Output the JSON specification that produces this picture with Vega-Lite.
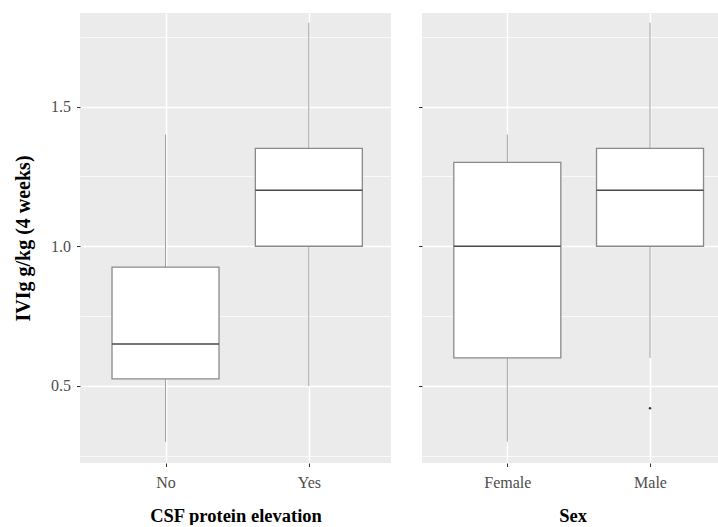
{
  "$schema": "https://vega.github.io/schema/vega-lite/v6.json",
  "padding": {"left": 13, "top": 13, "right": 0, "bottom": 0},
  "background": "white",
  "spacing": 27,
  "config": {
    "view": {"fill": "#EBEBEB", "stroke": null},
    "font": "Liberation Serif",
    "axis": {
      "domain": false,
      "gridColor": "white",
      "tickColor": "#333333",
      "tickSize": 3.5,
      "tickWidth": 1,
      "labelColor": "#4D4D4D",
      "labelFont": "Liberation Serif",
      "labelFontSize": 16,
      "titleFont": "Liberation Serif",
      "titleFontWeight": "bold",
      "titleColor": "black"
    }
  },
  "datasets": {
    "csf": [
      {"group": "No", "lower": 0.3, "q1": 0.525, "median": 0.65, "q3": 0.925, "upper": 1.4},
      {"group": "Yes", "lower": 0.5, "q1": 1.0, "median": 1.2, "q3": 1.35, "upper": 1.8}
    ],
    "sex": [
      {"group": "Female", "lower": 0.3, "q1": 0.6, "median": 1.0, "q3": 1.3, "upper": 1.4},
      {"group": "Male", "lower": 0.6, "q1": 1.0, "median": 1.2, "q3": 1.35, "upper": 1.8}
    ],
    "sexOut": [
      {"group": "Male", "value": 0.42}
    ]
  },
  "hconcat": [
    {
      "width": 311,
      "height": 450,
      "data": {"name": "csf"},
      "encoding": {
        "x": {
          "field": "group",
          "type": "nominal",
          "sort": ["No", "Yes"],
          "scale": {"type": "point", "padding": 0.585, "align": 0.51},
          "axis": {
            "title": "CSF protein elevation",
            "labelAngle": 0,
            "grid": true,
            "gridWidth": 1.5,
            "labelPadding": 8,
            "titlePadding": 16,
            "titleFontSize": 18.5
          }
        }
      },
      "layer": [
        {
          "mark": {"type": "rule", "color": "#a0a0a0", "strokeWidth": 1},
          "encoding": {
            "y": {
              "field": "lower",
              "type": "quantitative",
              "title": "IVIg g/kg (4 weeks)",
              "scale": {"domain": [0.224, 1.835], "nice": false, "zero": false},
              "axis": {
                "values": [0.25, 0.5, 0.75, 1, 1.25, 1.5, 1.75],
                "labelExpr": "datum.value % 0.5 == 0 ? format(datum.value, '.1f') : ''",
                "gridWidth": {"condition": {"test": "datum.value % 0.5 == 0", "value": 1.5}, "value": 0.7},
                "tickOpacity": {"condition": {"test": "datum.value % 0.5 == 0", "value": 1}, "value": 0},
                "labelPadding": 6,
                "titlePadding": 17,
                "titleFontSize": 20
              }
            },
            "y2": {"field": "upper"}
          }
        },
        {
          "mark": {"type": "bar", "size": 107, "fill": "white", "stroke": "#8a8a8a", "strokeWidth": 1.3},
          "encoding": {
            "y": {"field": "q1", "type": "quantitative", "title": "IVIg g/kg (4 weeks)"},
            "y2": {"field": "q3"}
          }
        },
        {
          "mark": {"type": "tick", "size": 107, "thickness": 1.5, "color": "#4a4a4a", "opacity": 1},
          "encoding": {
            "y": {"field": "median", "type": "quantitative", "title": "IVIg g/kg (4 weeks)"}
          }
        }
      ]
    },
    {
      "width": 301,
      "height": 450,
      "data": {"name": "sex"},
      "encoding": {
        "x": {
          "field": "group",
          "type": "nominal",
          "sort": ["Female", "Male"],
          "scale": {"type": "point", "padding": 0.5546, "align": 0.539},
          "axis": {
            "title": "Sex",
            "labelAngle": 0,
            "grid": true,
            "gridWidth": 1.5,
            "labelPadding": 8,
            "titlePadding": 16,
            "titleFontSize": 18.5
          }
        }
      },
      "layer": [
        {
          "mark": {"type": "rule", "color": "#a0a0a0", "strokeWidth": 1},
          "encoding": {
            "y": {
              "field": "lower",
              "type": "quantitative",
              "title": null,
              "scale": {"domain": [0.224, 1.835], "nice": false, "zero": false},
              "axis": {
                "values": [0.25, 0.5, 0.75, 1, 1.25, 1.5, 1.75],
                "labels": false,
                "gridWidth": {"condition": {"test": "datum.value % 0.5 == 0", "value": 1.5}, "value": 0.7},
                "tickOpacity": {"condition": {"test": "datum.value % 0.5 == 0", "value": 1}, "value": 0}
              }
            },
            "y2": {"field": "upper"}
          }
        },
        {
          "mark": {"type": "bar", "size": 107, "fill": "white", "stroke": "#8a8a8a", "strokeWidth": 1.3},
          "encoding": {
            "y": {"field": "q1", "type": "quantitative", "title": null},
            "y2": {"field": "q3"}
          }
        },
        {
          "mark": {"type": "tick", "size": 107, "thickness": 1.5, "color": "#4a4a4a", "opacity": 1},
          "encoding": {
            "y": {"field": "median", "type": "quantitative", "title": null}
          }
        },
        {
          "data": {"name": "sexOut"},
          "mark": {"type": "point", "filled": true, "size": 6, "color": "#333333", "opacity": 1},
          "encoding": {
            "y": {"field": "value", "type": "quantitative", "title": null}
          }
        }
      ]
    }
  ]
}
